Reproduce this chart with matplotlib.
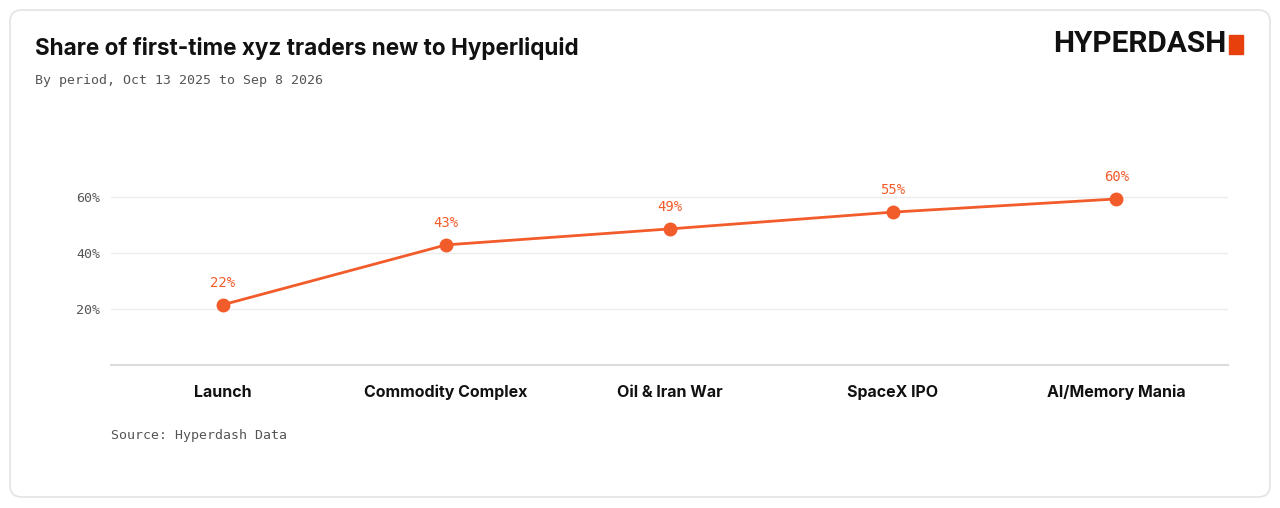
import matplotlib
matplotlib.use('Agg')
import matplotlib.pyplot as plt
from matplotlib.patches import FancyBboxPatch, Rectangle

categories = ['Launch', 'Commodity Complex', 'Oil & Iran War', 'SpaceX IPO', 'AI/Memory Mania']
share_pct = [21.5, 42.9, 48.6, 54.6, 59.3]
point_labels = ['22%', '43%', '49%', '55%', '60%']
y_ticks = [20, 40, 60]
y_tick_labels = ['20%', '40%', '60%']

ORANGE = '#f25c2a'
MONO = ['DejaVu Sans Mono']
SANS = ['Inter', 'DejaVu Sans']

W, H = 1280, 508


def fx(px):
    return px / W


def fy(py):
    return 1 - py / H


fig = plt.figure(figsize=(12.8, 5.08), dpi=100)
fig.patch.set_facecolor('white')

# card outline
card = FancyBboxPatch((fx(10), fy(497)), fx(1260), (487) / H,
                      boxstyle='round,pad=0,rounding_size=0.009',
                      transform=fig.transFigure, facecolor='none',
                      edgecolor='#e3e3e3', lw=1.2, mutation_aspect=W / H,
                      zorder=-1)
fig.patches.append(card)

ax = fig.add_axes([fx(111), fy(365), fx(1228) - fx(111), (365 - 141) / H])
ax.set_facecolor('none')
x = list(range(len(categories)))
ax.plot(x, share_pct, color=ORANGE, lw=2.0, marker='o', markersize=9,
        solid_capstyle='round', zorder=3)
for xi, v, lab in zip(x, share_pct, point_labels):
    ax.annotate(lab, (xi, v), xytext=(0, 16), textcoords='offset points',
                ha='center', va='center', color=ORANGE, fontsize=10,
                family=MONO, fontweight='medium')

ax.set_xlim(-0.5, len(categories) - 0.5)
ax.set_ylim(0, 80)
ax.set_yticks(y_ticks)
ax.set_yticklabels(y_tick_labels, family=MONO, fontsize=9.5, color='#555555')
ax.set_xticks(x)
ax.set_xticklabels(categories, family=SANS, fontsize=11.5, fontweight='bold',
                   color='#111111', va='baseline')
ax.tick_params(axis='both', length=0)
ax.tick_params(axis='y', pad=8)
ax.tick_params(axis='x', pad=23)
for yt in y_ticks:
    ax.axhline(yt, color='#ececec', lw=1.0, zorder=0)
for s in ['top', 'right', 'left']:
    ax.spines[s].set_visible(False)
ax.spines['bottom'].set_color('#dcdcdc')
ax.spines['bottom'].set_linewidth(1.5)

# header
fig.text(fx(35), fy(49), 'Share of first-time xyz traders new to Hyperliquid',
         family=SANS, fontsize=16.2, fontweight='bold', color='#111111',
         ha='left', va='center')
fig.text(fx(35), fy(81), 'By period, Oct 13 2025 to Sep 8 2026',
         family=MONO, fontsize=9.5, color='#555555', ha='left', va='center')

# logo
fig.text(fx(1226), fy(44), 'HYPERDASH', family=['Roboto', 'DejaVu Sans'],
         fontsize=21.5, fontweight='bold', color='#111111',
         ha='right', va='center')
fig.patches.append(Rectangle((fx(1229), fy(54)), fx(14), 19 / H,
                             transform=fig.transFigure, color='#e8400c'))

fig.text(fx(111), fy(435), 'Source: Hyperdash Data', family=MONO,
         fontsize=9.5, color='#555555', ha='left', va='center')

fig.savefig('out.png', dpi=100, facecolor='white')
